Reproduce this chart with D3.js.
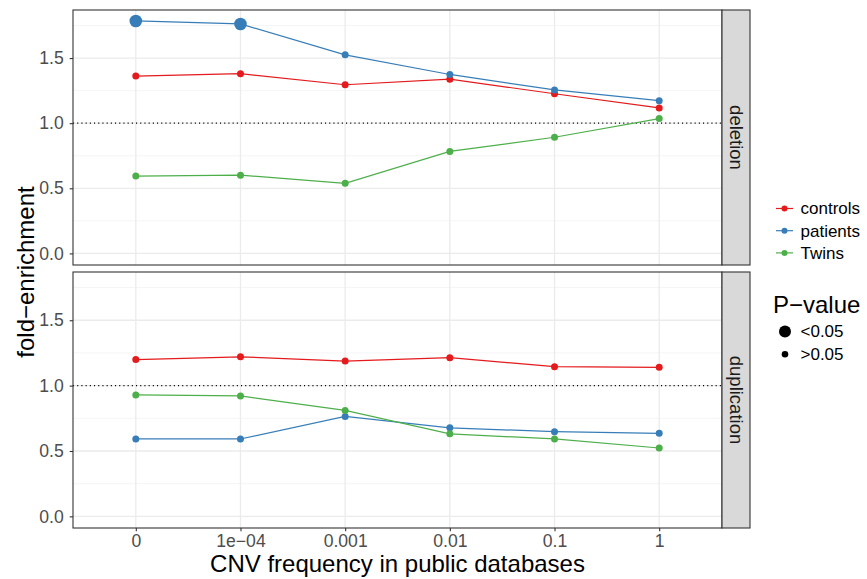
<!DOCTYPE html>
<html lang="en">
<head>
<meta charset="UTF-8">
<title>fold-enrichment by CNV frequency</title>
<script src="https://d3js.org/d3.v7.min.js"></script>
<style>
  body { margin: 0; background: #fff; }
  svg text { font-family: "Liberation Sans", Arial, sans-serif; }
</style>
</head>
<body>
<svg id="chart" width="867" height="579"></svg>
<script>
// data
const freqs = ["0", "1e-04", "0.001", "0.01", "0.1", "1"];
const cnvTypes = ["deletion", "duplication"];
const groups = ["controls", "patients", "Twins"];
const groupColors = ["#E41A1C", "#377EB8", "#4DAF4A"];

const delControls = [1.362, 1.380, 1.295, 1.338, 1.226, 1.117];
const delPatients = [1.785, 1.762, 1.525, 1.374, 1.255, 1.173];
const delTwins    = [0.594, 0.601, 0.538, 0.783, 0.892, 1.035];
const dupControls = [1.199, 1.220, 1.188, 1.214, 1.145, 1.140];
const dupPatients = [0.592, 0.592, 0.764, 0.677, 0.648, 0.635];
const dupTwins    = [0.929, 0.921, 0.810, 0.631, 0.592, 0.523];

// significant (p<0.05) points: [type, group, freq]
const significant = [["deletion", "patients", "0"], ["deletion", "patients", "1e-04"]];

const yTicks = [0, 0.5, 1.0, 1.5];
const yMinor = [0.25, 0.75, 1.25, 1.75];
const pLabels = ["<0.05", ">0.05"];

const series = {
  deletion: { controls: delControls, patients: delPatients, Twins: delTwins },
  duplication: { controls: dupControls, patients: dupPatients, Twins: dupTwins }
};

const svg = d3.select("#chart");
const left = 73, right = 722, stripW = 28;
const panels = [{ top: 10, bottom: 265 }, { top: 272, bottom: 528 }];

const x = d3.scalePoint().domain(freqs).range([left, right]).padding(0.6);
const color = d3.scaleOrdinal().domain(groups).range(groupColors);

cnvTypes.forEach(function (type, pi) {
  const p = panels[pi];
  const y = d3.scaleLinear().domain([-0.089, 1.869]).range([p.bottom, p.top]);
  const g = svg.append("g");

  // grid
  g.selectAll(".minor").data(yMinor).enter().append("line")
    .attr("x1", left).attr("x2", right)
    .attr("y1", d => y(d)).attr("y2", d => y(d))
    .attr("stroke", "#F2F2F2").attr("stroke-width", 0.8);
  g.selectAll(".major").data(yTicks).enter().append("line")
    .attr("x1", left).attr("x2", right)
    .attr("y1", d => y(d)).attr("y2", d => y(d))
    .attr("stroke", "#EBEBEB").attr("stroke-width", 1.3);
  g.selectAll(".vgrid").data(freqs).enter().append("line")
    .attr("x1", d => x(d)).attr("x2", d => x(d))
    .attr("y1", p.top).attr("y2", p.bottom)
    .attr("stroke", "#EBEBEB").attr("stroke-width", 1.3);

  // reference line at 1
  g.append("line")
    .attr("x1", left).attr("x2", right)
    .attr("y1", y(1)).attr("y2", y(1))
    .attr("stroke", "#000").attr("stroke-width", 1.1)
    .attr("stroke-dasharray", "1.1,3.1");

  // lines + points
  const line = d3.line().x((d, i) => x(freqs[i])).y(d => y(d));
  groups.forEach(function (grp) {
    const vals = series[type][grp];
    g.append("path").datum(vals)
      .attr("d", line)
      .attr("fill", "none")
      .attr("stroke", color(grp))
      .attr("stroke-width", 1.2);
    g.selectAll(".pt-" + grp).data(vals).enter().append("circle")
      .attr("cx", (d, i) => x(freqs[i]))
      .attr("cy", d => y(d))
      .attr("r", function (d, i) {
        const sig = significant.some(s => s[0] === type && s[1] === grp && s[2] === freqs[i]);
        return sig ? 6.3 : 3.5;
      })
      .attr("fill", color(grp));
  });

  // panel border
  g.append("rect")
    .attr("x", left).attr("y", p.top)
    .attr("width", right - left).attr("height", p.bottom - p.top)
    .attr("fill", "none").attr("stroke", "#333333").attr("stroke-width", 1.1);

  // strip
  g.append("rect")
    .attr("x", right).attr("y", p.top)
    .attr("width", stripW).attr("height", p.bottom - p.top)
    .attr("fill", "#D9D9D9").attr("stroke", "#333333").attr("stroke-width", 1.1);
  g.append("text")
    .attr("transform", "translate(" + (right + stripW / 2) + "," + ((p.top + p.bottom) / 2) + ") rotate(90)")
    .attr("text-anchor", "middle").attr("dy", "0.35em")
    .attr("font-size", 18.5).attr("fill", "#1A1A1A")
    .text(type);

  // y axis
  const ya = g.append("g").attr("transform", "translate(" + left + ",0)")
    .call(d3.axisLeft(y).tickValues(yTicks).tickFormat(d3.format(".1f")).tickSize(3.3).tickPadding(6));
  ya.select(".domain").remove();
  ya.selectAll(".tick line").attr("stroke", "#333333").attr("stroke-width", 1.1);
  ya.selectAll(".tick text").attr("font-size", 17.6).attr("fill", "#4D4D4D")
    .style("font-family", "Liberation Sans, Arial, sans-serif");

  if (pi === 1) {
    const xa = g.append("g").attr("transform", "translate(0," + p.bottom + ")")
      .call(d3.axisBottom(x).tickSize(3.3).tickPadding(3));
    xa.select(".domain").remove();
    xa.selectAll(".tick line").attr("stroke", "#333333").attr("stroke-width", 1.1);
    xa.selectAll(".tick text").attr("font-size", 17.6).attr("fill", "#4D4D4D")
      .style("font-family", "Liberation Sans, Arial, sans-serif")
      .text(d => d.replace("-", "\u2212"));
  }
});

// axis titles
svg.append("text")
  .attr("x", (left + right) / 2).attr("y", 572)
  .attr("text-anchor", "middle").attr("font-size", 24).attr("fill", "#000")
  .text("CNV frequency in public databases");
svg.append("text")
  .attr("transform", "translate(33.5,272) rotate(-90)")
  .attr("text-anchor", "middle").attr("font-size", 24).attr("fill", "#000")
  .text("fold\u2212enrichment");

// colour legend
const leg = svg.append("g");
groups.forEach(function (grp, i) {
  const cy = 208.5 + i * 22.2;
  leg.append("line").attr("x1", 776).attr("x2", 793).attr("y1", cy).attr("y2", cy)
    .attr("stroke", color(grp)).attr("stroke-width", 1.2);
  leg.append("circle").attr("cx", 784.5).attr("cy", cy).attr("r", 3).attr("fill", color(grp));
  leg.append("text").attr("x", 800.5).attr("y", cy).attr("dy", "0.35em")
    .attr("font-size", 17).attr("fill", "#000").text(grp);
});

// size legend
leg.append("text").attr("x", 773).attr("y", 313)
  .attr("font-size", 24).attr("fill", "#000").text("P\u2212value");
pLabels.forEach(function (lab, i) {
  const cy = 331.5 + i * 22.8;
  leg.append("circle").attr("cx", 785).attr("cy", cy).attr("r", i === 0 ? 6 : 3.3).attr("fill", "#000");
  leg.append("text").attr("x", 800.5).attr("y", cy).attr("dy", "0.35em")
    .attr("font-size", 17).attr("fill", "#000").text(lab);
});
</script>
</body>
</html>
